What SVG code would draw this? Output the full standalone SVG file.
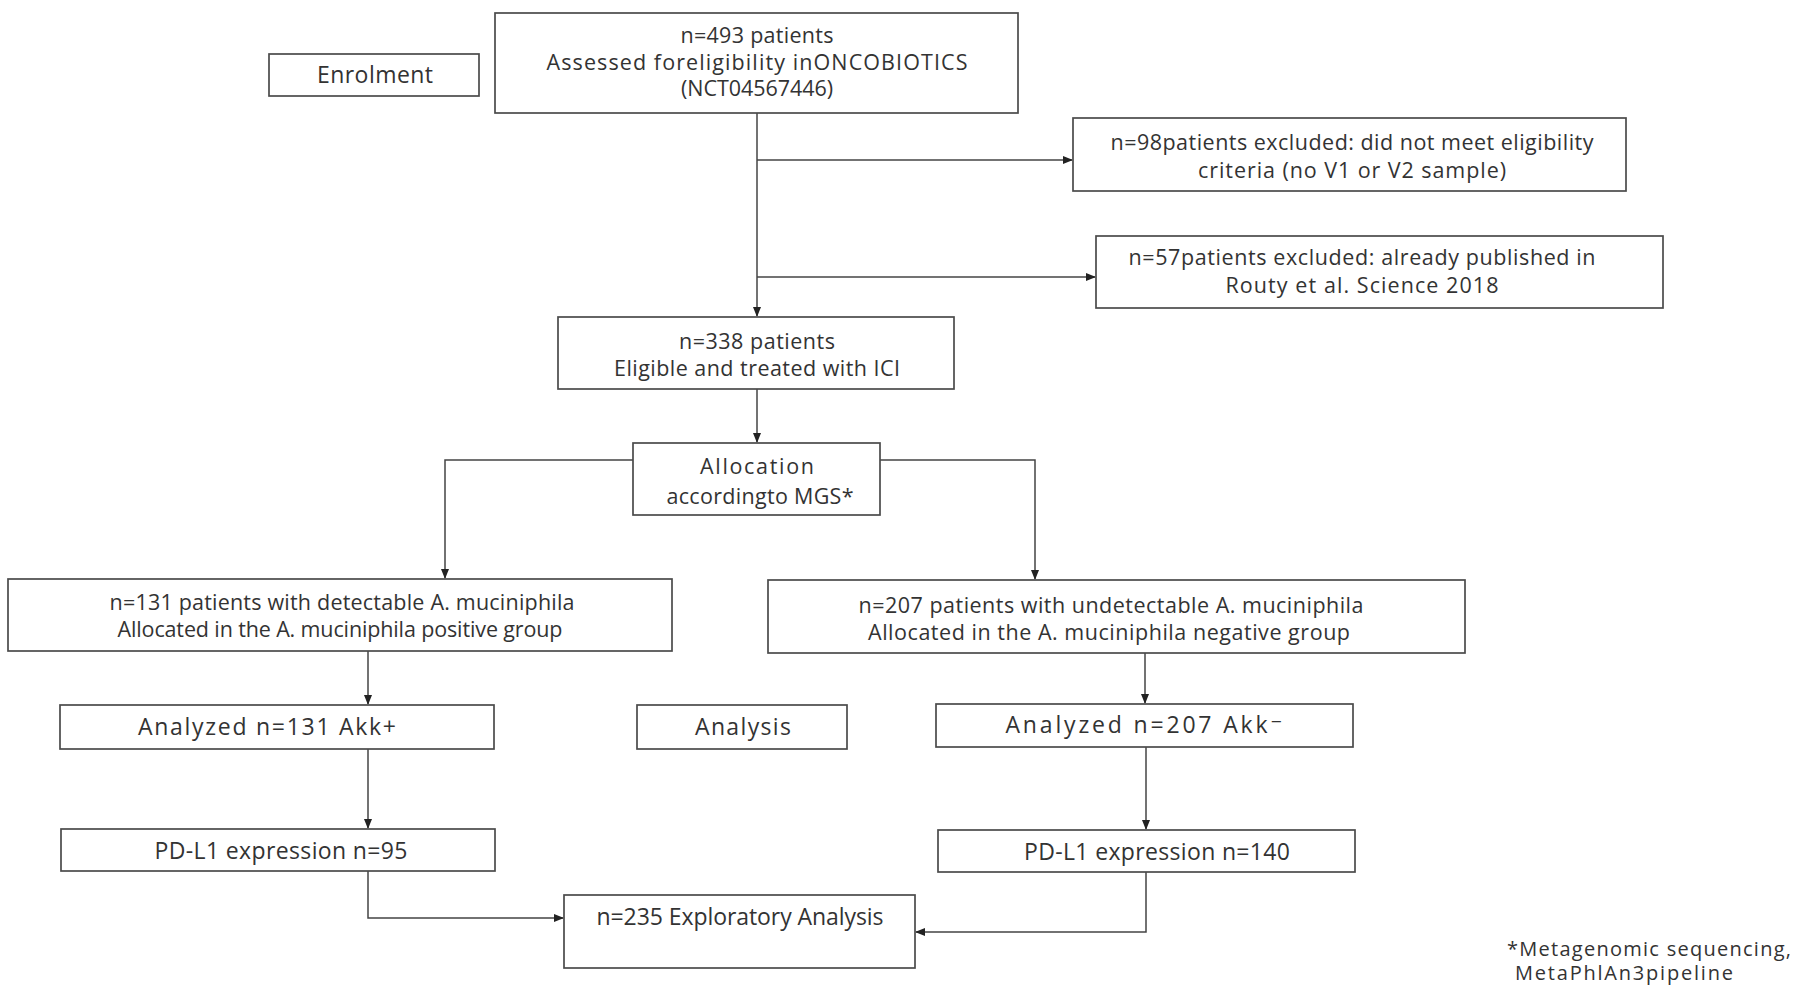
<svg xmlns="http://www.w3.org/2000/svg" width="1800" height="989" viewBox="0 0 1800 989">
<style>
.box{fill:#fff;stroke:#4a4a4a;stroke-width:1.7}
.t{font-family:"Open Sans","DejaVu Sans",sans-serif;font-size:21.5px;fill:#333;text-anchor:middle}
.s{font-size:23px}
.fn{font-family:"Open Sans","DejaVu Sans",sans-serif;font-size:20px;fill:#333}
.c{fill:none;stroke:#444;stroke-width:1.5}
</style>
<defs>
<marker id="ah" markerWidth="10" markerHeight="10" refX="9" refY="5" orient="auto" markerUnits="userSpaceOnUse">
<path d="M0,1 L10,5 L0,9 Z" fill="#222"/>
</marker>
</defs>
<rect width="1800" height="989" fill="#fff"/>
<g id="connectors">
<line class="c" x1="757" y1="113" x2="757" y2="316" marker-end="url(#ah)"/>
<line class="c" x1="757" y1="160" x2="1072" y2="160" marker-end="url(#ah)"/>
<line class="c" x1="757" y1="277" x2="1095" y2="277" marker-end="url(#ah)"/>
<line class="c" x1="757" y1="389" x2="757" y2="442" marker-end="url(#ah)"/>
<polyline class="c" points="633,460 445,460 445,578" marker-end="url(#ah)"/>
<polyline class="c" points="880,460 1035,460 1035,579" marker-end="url(#ah)"/>
<line class="c" x1="368" y1="651" x2="368" y2="704" marker-end="url(#ah)"/>
<line class="c" x1="1145" y1="653" x2="1145" y2="703" marker-end="url(#ah)"/>
<line class="c" x1="368" y1="749" x2="368" y2="828" marker-end="url(#ah)"/>
<line class="c" x1="1146" y1="747" x2="1146" y2="829" marker-end="url(#ah)"/>
<polyline class="c" points="368,871 368,918 563,918" marker-end="url(#ah)"/>
<polyline class="c" points="1146,872 1146,932 916,932" marker-end="url(#ah)"/>
</g>
<g id="enrolment">
<rect class="box" x="269" y="54" width="210" height="42"/>
<text class="t s" x="375" y="83" textLength="116">Enrolment</text>
</g>
<g id="assessed">
<rect class="box" x="495" y="13" width="523" height="100"/>
<text class="t" x="757" y="43" textLength="153">n=493 patients</text>
<text class="t" x="757" y="70" textLength="421">Assessed foreligibility inONCOBIOTICS</text>
<text class="t" x="757" y="96" textLength="152">(NCT04567446)</text>
</g>
<g id="excluded1">
<rect class="box" x="1073" y="118" width="553" height="73"/>
<text class="t" x="1352" y="150" textLength="483">n=98patients excluded: did not meet eligibility</text>
<text class="t" x="1352" y="178" textLength="308">criteria (no V1 or V2 sample)</text>
</g>
<g id="excluded2">
<rect class="box" x="1096" y="236" width="567" height="72"/>
<text class="t" x="1362" y="265" textLength="467">n=57patients excluded: already published in</text>
<text class="t" x="1362" y="293" textLength="273">Routy et al. Science 2018</text>
</g>
<g id="eligible">
<rect class="box" x="558" y="317" width="396" height="72"/>
<text class="t" x="757" y="349" textLength="156">n=338 patients</text>
<text class="t" x="757" y="376" textLength="286">Eligible and treated with ICI</text>
</g>
<g id="allocation">
<rect class="box" x="633" y="443" width="247" height="72"/>
<text class="t" x="757" y="474" textLength="114">Allocation</text>
<text class="t" x="760" y="504" textLength="187">accordingto MGS*</text>
</g>
<g id="positive">
<rect class="box" x="8" y="579" width="664" height="72"/>
<text class="t" x="342" y="610" textLength="465">n=131 patients with detectable A. muciniphila</text>
<text class="t" x="340" y="637" textLength="445">Allocated in the A. muciniphila positive group</text>
</g>
<g id="negative">
<rect class="box" x="768" y="580" width="697" height="73"/>
<text class="t" x="1111" y="613" textLength="505">n=207 patients with undetectable A. muciniphila</text>
<text class="t" x="1109" y="640" textLength="482">Allocated in the A. muciniphila negative group</text>
</g>
<g id="analyzed-pos">
<rect class="box" x="60" y="705" width="434" height="44"/>
<text class="t s" x="267" y="735" textLength="258">Analyzed n=131 Akk+</text>
</g>
<g id="analysis">
<rect class="box" x="637" y="705" width="210" height="44"/>
<text class="t s" x="743" y="735" textLength="96">Analysis</text>
</g>
<g id="analyzed-neg">
<rect class="box" x="936" y="704" width="417" height="43"/>
<text class="t s" x="1144" y="733" textLength="277">Analyzed n=207 Akk⁻</text>
</g>
<g id="pdl1-pos">
<rect class="box" x="61" y="829" width="434" height="42"/>
<text class="t s" x="281" y="859" textLength="253">PD-L1 expression n=95</text>
</g>
<g id="pdl1-neg">
<rect class="box" x="938" y="830" width="417" height="42"/>
<text class="t s" x="1157" y="860" textLength="266">PD-L1 expression n=140</text>
</g>
<g id="exploratory">
<rect class="box" x="564" y="895" width="351" height="73"/>
<text class="t s" x="740" y="925" textLength="287">n=235 Exploratory Analysis</text>
</g>
<g id="footnote">
<text class="fn" x="1507" y="956" textLength="284">*Metagenomic sequencing,</text>
<text class="fn" x="1515" y="980" textLength="218">MetaPhlAn3pipeline</text>
</g>
</svg>
